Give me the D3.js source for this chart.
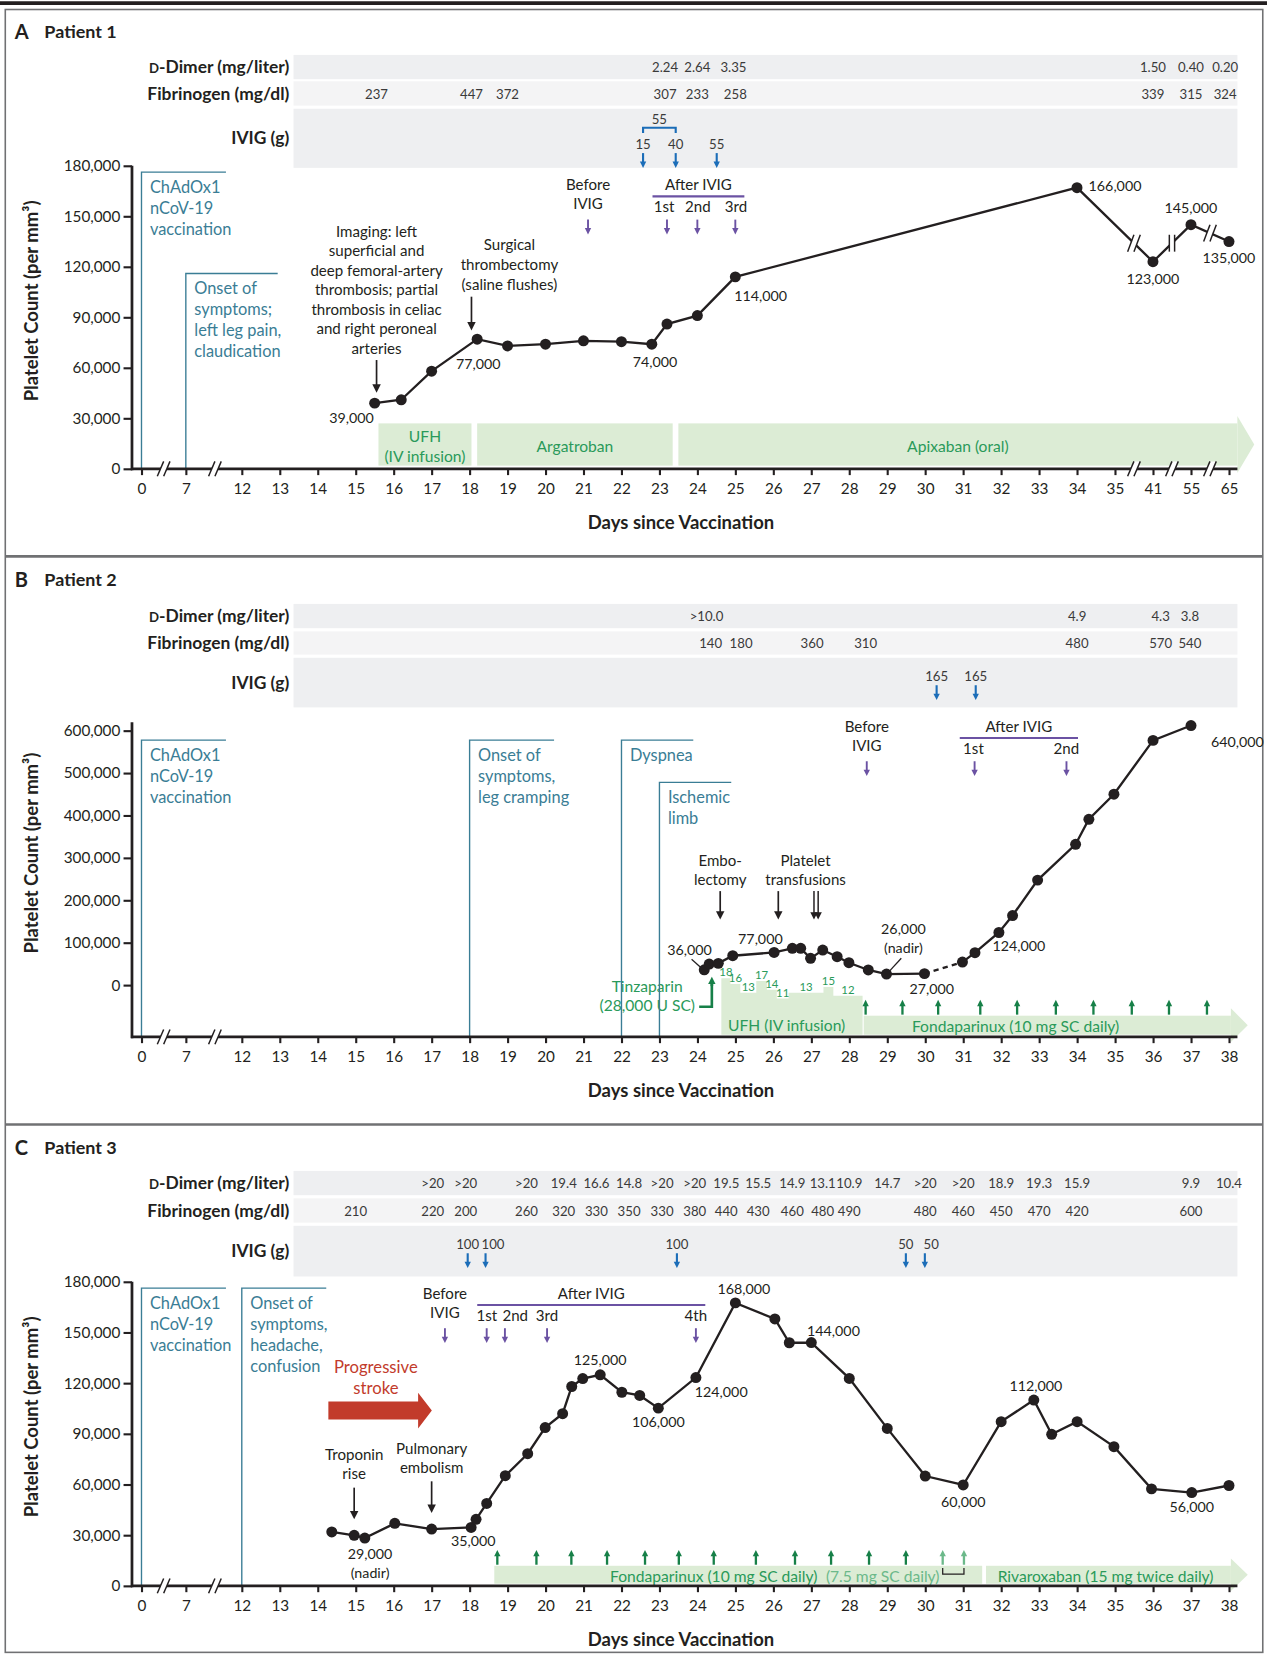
<html>
<head>
  <meta charset="UTF-8">
  <script src="https://d3js.org/d3.v7.min.js"></script>
  <style>
    body { margin: 0; background: #fff; }
    text { font-family: Lato, "Noto Sans", sans-serif; }
  </style>
</head>
<body>
  <svg id="fig" width="1267" height="1655" viewBox="0 0 1200 1567.5"></svg>
  <script>
    // ---------------- data: Patient 1 ----------------
    const p1Days = [15.5, 16.2, 17, 18.2, 19, 20, 21, 22, 22.8, 23.2, 24, 25, 34, 41, 55, 65];
    const p1Platelets = [39000, 41000, 58000, 77000, 73000, 74000, 76000, 75500, 74000, 86000, 91000, 114000, 167000, 123000, 145000, 135000];
    const p1PointLabels = ["39,000", null, null, "77,000", null, null, null, null, "74,000", null, null, "114,000", "166,000", "123,000", "145,000", "135,000"];
    const p1DdDays = [23.15, 24, 24.95, 41, 55, 64];
    const p1DdVals = ["2.24", "2.64", "3.35", "1.50", "0.40", "0.20"];
    const p1FibDays = [15.55, 18.05, 19, 23.15, 24, 25, 41, 55, 64];
    const p1FibVals = ["237", "447", "372", "307", "233", "258", "339", "315", "324"];
    const p1IvigDays = [22.57, 23.43, 24.51];
    const p1IvigDoses = [15, 40, 55];
    const p1BeforeDay = 21.12;
    const p1AfterDays = [23.2, 24.0, 25.0];
    const p1AfterNames = ["1st", "2nd", "3rd"];
    const p1Treat = [
      { name: ["UFH", "(IV infusion)"], start: 15.6, end: 18.05 },
      { name: ["Argatroban"], start: 18.2, end: 23.35 },
      { name: ["Apixaban (oral)"], start: 23.5, end: 67.2, arrow: true }
    ];
    const xTicksA = [0, 7, 12, 13, 14, 15, 16, 17, 18, 19, 20, 21, 22, 23, 24, 25, 26, 27, 28, 29, 30, 31, 32, 33, 34, 35, 41, 55, 65];

    // ---------------- data: Patient 2 ----------------
    const p2Days = [24.18, 24.31, 24.55, 24.93, 26.02, 26.5, 26.72, 26.98, 27.3, 27.68, 27.99, 28.5, 28.98, 29.98, 30.98, 31.31, 31.94, 32.3, 32.96, 33.96, 34.31, 34.97, 36.0, 37.0];
    const p2Platelets = [36000, 49500, 51200, 69200, 77000, 86600, 86600, 63000, 82600, 66900, 52700, 35600, 26000, 27000, 54200, 76400, 124000, 164000, 247500, 332000, 391000, 450000, 577000, 612000];
    const p2DdDays = [24.24, 34.0, 36.2, 36.97];
    const p2DdVals = [">10.0", "4.9", "4.3", "3.8"];
    const p2FibDays = [24.35, 25.15, 27.02, 28.43, 34.0, 36.2, 36.97];
    const p2FibVals = ["140", "180", "360", "310", "480", "570", "540"];
    const p2IvigDays = [30.3, 31.33];
    const p2IvigDoses = [165, 165];
    const p2BeforeDay = 28.46;
    const p2AfterDays = [31.3, 33.72];
    const p2AfterNames = ["1st", "2nd"];
    const p2UfhStart = [24.63, 24.87, 25.13, 25.55, 25.83, 26.09, 26.4, 27.32, 27.58];
    const p2UfhRate = [18, 16, 13, 17, 14, 11, 13, 15, 12];
    const p2UfhEnd = 28.35;
    const p2FondaStart = 28.38, p2FondaEnd = 38.05;
    const p2FondaDoses = [28.43, 29.4, 30.34, 31.45, 32.42, 33.44, 34.43, 35.44, 36.42, 37.42];
    const p2TinzaDay = 24.38;

    // ---------------- data: Patient 3 ----------------
    const p3Days = [14.37, 14.96, 15.24, 16.03, 17.0, 18.04, 18.17, 18.45, 18.94, 19.53, 19.99, 20.45, 20.69, 20.98, 21.44, 22.01, 22.48, 22.97, 23.96, 25.0, 26.04, 26.42, 27.0, 28.0, 29.0, 30.0, 31.0, 32.0, 32.86, 33.33, 34.0, 34.97, 35.96, 37.02, 38.0];
    const p3Platelets = [31900, 29900, 28300, 37000, 33600, 34600, 39400, 48800, 65200, 78200, 93700, 101900, 118000, 122700, 124900, 114600, 112700, 105200, 123300, 167500, 158000, 143900, 144000, 122800, 93200, 65000, 59700, 97200, 110000, 89700, 97200, 82400, 57400, 55200, 59400];
    const p3LabDays = [15.0, 17.03, 17.9, 19.5, 20.48, 21.34, 22.2, 23.07, 23.93, 24.76, 25.6, 26.5, 27.3, 28.0, 29.0, 30.0, 31.0, 32.0, 33.0, 34.0, 37.0, 38.0];
    const p3DdVals = [null, ">20", ">20", ">20", "19.4", "16.6", "14.8", ">20", ">20", "19.5", "15.5", "14.9", "13.1", "10.9", "14.7", ">20", ">20", "18.9", "19.3", "15.9", "9.9", "10.4"];
    const p3FibVals = ["210", "220", "200", "260", "320", "330", "350", "330", "380", "440", "430", "460", "480", "490", null, "480", "460", "450", "470", "420", "600", null];
    const p3IvigDays = [17.95, 18.42, 23.46, 29.49, 29.99];
    const p3IvigDoses = [100, 100, 100, 50, 50];
    const p3BeforeDay = 17.35;
    const p3AfterDays = [18.45, 18.93, 20.04, 23.96];
    const p3AfterNames = ["1st", "2nd", "3rd", "4th"];
    const p3FondaStart = 18.65, p3FondaEnd = 31.5;
    const p3RivaStart = 31.6, p3RivaEnd = 38.05;
    const p3FondaDoses = [18.73, 19.76, 20.68, 21.62, 22.62, 23.51, 24.43, 25.54, 26.57, 27.52, 28.52, 29.49];
    const p3LowDoses = [30.46, 31.02];
    const xTicksBC = d3.range(12, 39); xTicksBC.unshift(0, 7);

    // ---------------- colours ----------------
    const ink = "#231f20", teal = "#3a7d95", purple = "#6b52a3", blue = "#1b6db8",
      green = "#2a9a5a", darkGreen = "#178048", paleGreen = "#6cb98a", barGreen = "#dcecd5", red = "#c23b2b";
    const NOTE = 14.3;   // black annotation text size
    const GREEN = 14.8;  // treatment text size

    const svg = d3.select("#fig");

    // ---------------- helpers ----------------
    function txt(g, x, y, s, o = {}) {
      return g.append("text").attr("x", x).attr("y", y).attr("dy", "0.35em")
        .attr("text-anchor", o.anchor || "middle")
        .attr("font-size", o.size || NOTE)
        .attr("font-weight", o.bold ? "bold" : null)
        .attr("fill", o.color || ink).text(s);
    }
    function lines(g, x, y, arr, lh, o) { arr.forEach((s, i) => txt(g, x, y + i * lh, s, o)); }

    // vertical arrow, head at y2
    function arrow(g, x, y1, y2, color, w, head) {
      const dir = y2 > y1 ? 1 : -1;
      g.append("line").attr("x1", x).attr("x2", x).attr("y1", y1).attr("y2", y2 - dir * head * 0.8)
        .attr("stroke", color).attr("stroke-width", w);
      g.append("path").attr("d", `M${x - head * 0.5},${y2 - dir * head}L${x + head * 0.5},${y2 - dir * head}L${x},${y2}Z`)
        .attr("fill", color);
    }

    // "//" or "||" break mark
    function brk(g, cx, cy, kind, h) {
      h = h || 8;
      if (kind === "//") {
        g.append("path").attr("d", `M${cx - 6},${cy + h}L${cx},${cy - h}L${cx + 6},${cy - h}L${cx},${cy + h}Z`).attr("fill", "#fff");
        [-3, 3].forEach(o => g.append("line").attr("x1", cx + o - 3).attr("y1", cy + h).attr("x2", cx + o + 3).attr("y2", cy - h)
          .attr("stroke", ink).attr("stroke-width", 1.4));
      } else {
        g.append("rect").attr("x", cx - 2.5).attr("y", cy - h).attr("width", 5).attr("height", 2 * h).attr("fill", "#fff");
        [-2.5, 2.5].forEach(o => g.append("line").attr("x1", cx + o).attr("x2", cx + o).attr("y1", cy - h).attr("y2", cy + h)
          .attr("stroke", ink).attr("stroke-width", 1.4));
      }
    }

    // table of labs above each chart
    function drawTable(g, bands) {
      const names = [["D", "-Dimer (mg/liter)"], ["", "Fibrinogen (mg/dl)"], ["", "IVIG (g)"]];
      const fills = ["#eeeff1", "#f4f4f5", "#eeeff1"];
      bands.forEach((b, i) => {
        g.append("rect").attr("x", 278).attr("y", b[0]).attr("width", 894).attr("height", b[1] - b[0]).attr("fill", fills[i]);
        const t = g.append("text").attr("x", 274).attr("y", (b[0] + b[1]) / 2).attr("dy", "0.35em")
          .attr("text-anchor", "end").attr("font-size", 16.5).attr("font-weight", "bold").attr("fill", ink);
        if (names[i][0]) t.append("tspan").attr("font-size", 12.5).text(names[i][0]);
        t.append("tspan").text(names[i][1]);
      });
    }
    function labRow(g, x, yc, days, vals) {
      days.forEach((d, i) => { if (vals[i]) txt(g, x(d), yc, vals[i], { size: 12.5, color: "#3a3a3a" }); });
    }

    function drawAxes(g, x, y, xTicks, yTicks, axisY, yTop, titleY) {
      const xa = g.append("g").attr("transform", `translate(0,${axisY})`)
        .call(d3.axisBottom(x).tickValues(xTicks).tickSize(6).tickPadding(8).tickFormat(d => d));
      const ya = g.append("g").attr("transform", "translate(125,0)")
        .call(d3.axisLeft(y).tickValues(yTicks).tickSize(8).tickPadding(3).tickFormat(d3.format(",")));
      [xa, ya].forEach(a => {
        a.select(".domain").remove();
        a.selectAll("line").attr("stroke", ink).attr("stroke-width", 2);
        a.selectAll("text").attr("font-size", 14.5).attr("fill", ink).attr("font-family", "Lato, 'Noto Sans', sans-serif");
      });
      g.append("line").attr("x1", 124).attr("x2", 1172).attr("y1", axisY).attr("y2", axisY).attr("stroke", ink).attr("stroke-width", 2.6);
      g.append("line").attr("x1", 125).attr("x2", 125).attr("y1", yTop).attr("y2", axisY + 1.3).attr("stroke", ink).attr("stroke-width", 2.6);
      g.append("text").attr("transform", `translate(30,${titleY}) rotate(-90)`).attr("dy", "0.35em")
        .attr("text-anchor", "middle").attr("font-size", 17.5).attr("font-weight", "bold").attr("fill", ink)
        .text("Platelet Count (per mm³)");
      txt(g, 645, axisY + 51, "Days since Vaccination", { size: 17.5, bold: true });
    }

    // teal event box: vertical line down to axis, short top rule, text
    function eventBox(g, xPos, top, width, axisY, textLines) {
      g.append("path").attr("d", `M${xPos},${axisY}V${top}H${xPos + width}`)
        .attr("fill", "none").attr("stroke", teal).attr("stroke-width", 1.3);
      lines(g, xPos + 8, top + 14, textLines, 20, { anchor: "start", color: teal, size: 15.5 });
    }

    function ivigMarks(g, x, days, doses, labY) {
      let prev = -1e9;
      days.forEach((d, i) => {
        const lx = Math.max(x(d), prev + 24);
        prev = lx;
        txt(g, lx, labY, doses[i], { size: 12.5, color: "#3a3a3a" });
        arrow(g, x(d), labY + 8, labY + 22, blue, 2, 6);
      });
    }

    function ivigTiming(g, x, beforeDay, afterDays, afterNames, topY, lineX0, lineX1, nameXs) {
      lines(g, x(beforeDay), topY, ["Before", "IVIG"], 18, {});
      arrow(g, x(beforeDay), topY + 33, topY + 47, purple, 1.8, 6);
      txt(g, (lineX0 + lineX1) / 2, topY, "After IVIG", {});
      g.append("line").attr("x1", lineX0).attr("x2", lineX1).attr("y1", topY + 11).attr("y2", topY + 11)
        .attr("stroke", purple).attr("stroke-width", 2);
      afterDays.forEach((d, i) => {
        txt(g, nameXs ? nameXs[i] : x(d), topY + 21, afterNames[i], {});
        arrow(g, x(d), topY + 33, topY + 47, purple, 1.8, 6);
      });
    }

    function treatBar(g, x, start, end, y0, y1, arrowHead) {
      const xs = x(start), xe = x(end);
      g.append("rect").attr("x", xs).attr("y", y0).attr("width", xe - xs).attr("height", y1 - y0).attr("fill", barGreen);
      if (arrowHead) {
        const m = (y0 + y1) / 2, hh = (y1 - y0) / 2 + 7;
        g.append("path").attr("d", `M${xe},${m - hh}L${xe + 16},${m}L${xe},${m + hh}Z`).attr("fill", barGreen);
      }
    }

    function plotLine(g, x, y, days, vals, dashFrom) {
      const pts = days.map((d, i) => [x(d), y(vals[i])]);
      const line = d3.line();
      if (dashFrom == null) {
        g.append("path").attr("d", line(pts)).attr("fill", "none").attr("stroke", ink).attr("stroke-width", 2.2);
      } else {
        g.append("path").attr("d", line(pts.slice(0, dashFrom + 1))).attr("fill", "none").attr("stroke", ink).attr("stroke-width", 2.2);
        g.append("path").attr("d", line(pts.slice(dashFrom, dashFrom + 2))).attr("fill", "none").attr("stroke", ink)
          .attr("stroke-width", 2.2).attr("stroke-dasharray", "5,4");
        g.append("path").attr("d", line(pts.slice(dashFrom + 1))).attr("fill", "none").attr("stroke", ink).attr("stroke-width", 2.2);
      }
      return pts;
    }
    function plotDots(g, pts) {
      g.selectAll(null).data(pts).join("circle")
        .attr("cx", d => d[0]).attr("cy", d => d[1]).attr("r", 5.2).attr("fill", ink);
    }
    function lineYAt(pts, px) {
      for (let i = 0; i < pts.length - 1; i++) {
        if (pts[i][0] <= px && pts[i + 1][0] >= px) {
          const t = (px - pts[i][0]) / (pts[i + 1][0] - pts[i][0]);
          return pts[i][1] + t * (pts[i + 1][1] - pts[i][1]);
        }
      }
      return pts[pts.length - 1][1];
    }

    // ---------------- figure frame ----------------
    svg.append("rect").attr("width", 1200).attr("height", 1567.5).attr("fill", "#fff");
    svg.append("line").attr("x1", 0).attr("x2", 1200).attr("y1", 3).attr("y2", 3).attr("stroke", ink).attr("stroke-width", 3.5);
    svg.append("rect").attr("x", 5).attr("y", 9).attr("width", 1191).attr("height", 1556)
      .attr("fill", "none").attr("stroke", "#707173").attr("stroke-width", 1.5);
    [527, 1065].forEach(yy => svg.append("line").attr("x1", 5).attr("x2", 1196).attr("y1", yy).attr("y2", yy)
      .attr("stroke", "#707173").attr("stroke-width", 2.5));

    function panelTitle(g, y, letter, title) {
      txt(g, 14, y, letter, { anchor: "start", size: 19, bold: true });
      txt(g, 42, y, title, { anchor: "start", size: 17, bold: true });
    }

    // ================= Panel A =================
    const xA = d3.scaleLinear().domain([0, 7, 12, 35, 41, 55, 65]).range([134, 176, 229, 1056, 1092, 1128, 1164]);
    const yA = d3.scaleLinear().domain([0, 180000]).range([444, 157]);
    const gA = svg.append("g");
    panelTitle(gA, 30, "A", "Patient 1");
    drawTable(gA, [[52, 75], [77, 100], [103, 159]]);
    labRow(gA, xA, 64, p1DdDays, p1DdVals);
    labRow(gA, xA, 89, p1FibDays, p1FibVals);
    ivigMarks(gA, xA, p1IvigDays, p1IvigDoses, 137);
    // combined 55 g bracket over first two doses
    txt(gA, (xA(p1IvigDays[0]) + xA(p1IvigDays[1])) / 2, 113, "55", { size: 12.5, color: "#3a3a3a" });
    gA.append("path").attr("d", `M${xA(p1IvigDays[0])},126V121H${xA(p1IvigDays[1])}V126`)
      .attr("fill", "none").attr("stroke", blue).attr("stroke-width", 2);

    p1Treat.forEach(t => {
      treatBar(gA, xA, t.start, t.end, 401, 441, t.arrow);
      const cx = (xA(t.start) + xA(t.end)) / 2;
      if (t.name.length === 2) lines(gA, cx, 413, t.name, 19, { color: green, size: GREEN });
      else txt(gA, cx, 423, t.name[0], { color: green, size: GREEN });
    });

    eventBox(gA, xA(0), 163, 80, 444, ["ChAdOx1", "nCoV-19", "vaccination"]);
    eventBox(gA, xA(7), 259, 87, 444, ["Onset of", "symptoms;", "left leg pain,", "claudication"]);
    drawAxes(gA, xA, yA, xTicksA, d3.range(0, 180001, 30000), 444, 157, 285);

    lines(gA, xA(15.55), 219, ["Imaging: left", "superficial and", "deep femoral-artery", "thrombosis; partial", "thrombosis in celiac", "and right peroneal", "arteries"], 18.5, {});
    arrow(gA, xA(15.55), 341, 372, ink, 1.6, 8);
    lines(gA, xA(19.05), 232, ["Surgical", "thrombectomy", "(saline flushes)"], 19, {});
    arrow(gA, xA(18.05), 281, 313, ink, 1.6, 8);
    ivigTiming(gA, xA, p1BeforeDay, p1AfterDays, p1AfterNames, 175, 618, 705, [629, 661, 697]);

    const ptsA = plotLine(gA, xA, yA, p1Days, p1Platelets);
    [[38, "//"], [48, "||"], [60, "//"]].forEach(b => brk(gA, xA(b[0]), lineYAt(ptsA, xA(b[0])), b[1], 8));
    plotDots(gA, ptsA);
    const offA = { 0: [-22, 14], 3: [1, 24], 8: [3, 17], 11: [24, 18], 12: [36, -2], 13: [0, 16], 14: [0, -16], 15: [0, 16] };
    p1PointLabels.forEach((s, i) => { if (s) txt(gA, ptsA[i][0] + offA[i][0], ptsA[i][1] + offA[i][1], s, { size: 13.5 }); });
    [3.5, 9.6, 38, 48, 60].forEach(d => brk(gA, xA(d), 444, "//", 7));

    // ================= Panel B =================
    const xB = d3.scaleLinear().domain([0, 7, 12, 38]).range([134, 176, 229, 1164]);
    const yB = d3.scaleLinear().domain([0, 600000]).range([933, 692]);
    const gB = svg.append("g");
    panelTitle(gB, 549, "B", "Patient 2");
    drawTable(gB, [[572, 595], [598, 620], [623, 670]]);
    labRow(gB, xB, 584, p2DdDays, p2DdVals);
    labRow(gB, xB, 609, p2FibDays, p2FibVals);
    ivigMarks(gB, xB, p2IvigDays, p2IvigDoses, 641);

    // UFH stepped infusion rates
    const rateY = d3.scaleLinear().domain([0, 20]).range([976, 921]);
    const ufhPts = p2UfhStart.map((d, i) => [d, p2UfhRate[i]]).concat([[p2UfhEnd, p2UfhRate[p2UfhRate.length - 1]]]);
    gB.append("path").attr("d", d3.area().x(d => xB(d[0])).y0(980).y1(d => rateY(d[1])).curve(d3.curveStepAfter)(ufhPts))
      .attr("fill", barGreen);
    p2UfhStart.forEach((d, i) => {
      const e = i < p2UfhStart.length - 1 ? p2UfhStart[i + 1] : p2UfhEnd;
      txt(gB, (xB(d) + xB(e)) / 2, rateY(p2UfhRate[i]) - 5.5, p2UfhRate[i], { size: 10.8, color: green });
    });
    txt(gB, xB(26.35), 971, "UFH (IV infusion)", { color: green, size: GREEN });
    treatBar(gB, xB, p2FondaStart, p2FondaEnd, 962, 980, true);
    txt(gB, xB(32.38), 972, "Fondaparinux (10 mg SC daily)", { color: green, size: GREEN });
    p2FondaDoses.forEach(d => arrow(gB, xB(d), 961, 947, darkGreen, 2.2, 6));
    // tinzaparin
    gB.append("path").attr("d", `M${xB(p2TinzaDay) - 12},953.5H${xB(p2TinzaDay)}V932`).attr("fill", "none")
      .attr("stroke", darkGreen).attr("stroke-width", 2.5);
    arrow(gB, xB(p2TinzaDay), 934, 925, darkGreen, 2.5, 7);
    lines(gB, 613, 934, ["Tinzaparin", "(28,000 U SC)"], 18.5, { color: green, size: GREEN });

    eventBox(gB, xB(0), 701, 80, 982, ["ChAdOx1", "nCoV-19", "vaccination"]);
    eventBox(gB, xB(18), 701, 80, 982, ["Onset of", "symptoms,", "leg cramping"]);
    eventBox(gB, xB(22), 701, 68, 982, ["Dyspnea"]);
    eventBox(gB, xB(23), 741, 68, 982, ["Ischemic", "limb"]);
    drawAxes(gB, xB, yB, xTicksBC, d3.range(0, 600001, 100000), 982, 684, 808);

    lines(gB, xB(24.6), 815, ["Embo-", "lectomy"], 18, {});
    arrow(gB, xB(24.6), 844, 871, ink, 1.6, 8);
    lines(gB, 763, 815, ["Platelet", "transfusions"], 18, {});
    arrow(gB, xB(26.13), 844, 871, ink, 1.6, 8);
    arrow(gB, xB(27.07), 844, 871, ink, 1.4, 7);
    arrow(gB, xB(27.18), 844, 871, ink, 1.4, 7);
    ivigTiming(gB, xB, p2BeforeDay, p2AfterDays, p2AfterNames, 688, 909, 1021, [922, 1010]);

    const ptsB = plotLine(gB, xB, yB, p2Days, p2Platelets, 13);
    plotDots(gB, ptsB);
    txt(gB, ptsB[0][0] - 14, ptsB[0][1] - 19, "36,000", { size: 13.5 });
    gB.append("line").attr("x1", ptsB[0][0] - 12).attr("y1", ptsB[0][1] - 10).attr("x2", ptsB[0][0] - 3).attr("y2", ptsB[0][1] - 2)
      .attr("stroke", ink).attr("stroke-width", 1.2);
    txt(gB, ptsB[4][0] - 13, ptsB[4][1] - 13, "77,000", { size: 13.5 });
    lines(gB, ptsB[12][0] + 16, ptsB[12][1] - 43, ["26,000", "(nadir)"], 18.5, { size: 13.5 });
    gB.append("line").attr("x1", ptsB[12][0] + 14).attr("y1", ptsB[12][1] - 15).attr("x2", ptsB[12][0] + 3).attr("y2", ptsB[12][1] - 3)
      .attr("stroke", ink).attr("stroke-width", 1.2);
    txt(gB, ptsB[13][0] + 7, ptsB[13][1] + 15, "27,000", { size: 13.5 });
    txt(gB, ptsB[16][0] + 19, ptsB[16][1] + 13, "124,000", { size: 13.5 });
    txt(gB, ptsB[23][0] + 44, ptsB[23][1] + 16, "640,000", { size: 13.5 });
    [3.5, 9.6].forEach(d => brk(gB, xB(d), 982, "//", 7));

    // ================= Panel C =================
    const xC = d3.scaleLinear().domain([0, 7, 12, 38]).range([134, 176, 229, 1164]);
    const yC = d3.scaleLinear().domain([0, 180000]).range([1502, 1214]);
    const gC = svg.append("g");
    panelTitle(gC, 1087, "C", "Patient 3");
    drawTable(gC, [[1109, 1132], [1135, 1158], [1161, 1209]]);
    labRow(gC, xC, 1121, p3LabDays, p3DdVals);
    labRow(gC, xC, 1147, p3LabDays, p3FibVals);
    ivigMarks(gC, xC, p3IvigDays, p3IvigDoses, 1179);

    treatBar(gC, xC, p3FondaStart, p3FondaEnd, 1483, 1500, false);
    treatBar(gC, xC, p3RivaStart, p3RivaEnd, 1483, 1500, true);
    txt(gC, xC(24.43), 1493, "Fondaparinux (10 mg SC daily)", { color: green, size: GREEN });
    txt(gC, xC(28.88), 1493, "(7.5 mg SC daily)", { color: paleGreen, size: GREEN });
    txt(gC, xC(34.75), 1493, "Rivaroxaban (15 mg twice daily)", { color: green, size: GREEN });
    gC.append("path").attr("d", `M${xC(p3LowDoses[0])},1485V1491H${xC(p3LowDoses[1])}V1485`)
      .attr("fill", "none").attr("stroke", ink).attr("stroke-width", 1.2);
    p3FondaDoses.forEach(d => arrow(gC, xC(d), 1482, 1468, darkGreen, 2.2, 6));
    p3LowDoses.forEach(d => arrow(gC, xC(d), 1482, 1468, paleGreen, 2.2, 6));

    eventBox(gC, xC(0), 1220, 80, 1502, ["ChAdOx1", "nCoV-19", "vaccination"]);
    eventBox(gC, xC(12), 1220, 80, 1502, ["Onset of", "symptoms,", "headache,", "confusion"]);
    drawAxes(gC, xC, yC, xTicksBC, d3.range(0, 180001, 30000), 1502, 1214, 1342);

    // progressive stroke arrow
    lines(gC, 356, 1295, ["Progressive", "stroke"], 19.5, { color: red, size: 15.8 });
    gC.append("path").attr("d", "M311,1327.5H396V1319L409,1336L396,1353V1344.5H311Z").attr("fill", red);
    lines(gC, xC(14.96), 1378, ["Troponin", "rise"], 18, {});
    arrow(gC, xC(14.96), 1409, 1439, ink, 1.6, 8);
    lines(gC, xC(17.0), 1372, ["Pulmonary", "embolism"], 18, {});
    arrow(gC, xC(17.0), 1403, 1433, ink, 1.6, 8);
    ivigTiming(gC, xC, p3BeforeDay, p3AfterDays, p3AfterNames, 1225, 452, 668, [461, 488, 518, 659]);

    const ptsC = plotLine(gC, xC, yC, p3Days, p3Platelets);
    plotDots(gC, ptsC);
    lines(gC, ptsC[2][0] + 5, ptsC[2][1] + 15, ["29,000", "(nadir)"], 18.5, { size: 13.5 });
    const offC = { 5: [2, 13, "35,000"], 14: [0, -14, "125,000"], 17: [0, 13, "106,000"], 18: [24, 14, "124,000"],
      19: [8, -13, "168,000"], 22: [21, -11, "144,000"], 26: [0, 16, "60,000"], 28: [2, -13, "112,000"], 33: [0, 14, "56,000"] };
    Object.keys(offC).forEach(k => {
      const o = offC[k];
      txt(gC, ptsC[k][0] + o[0], ptsC[k][1] + o[1], o[2], { size: 13.5 });
    });
    [3.5, 9.6].forEach(d => brk(gC, xC(d), 1502, "//", 7));
  </script>
</body>
</html>
